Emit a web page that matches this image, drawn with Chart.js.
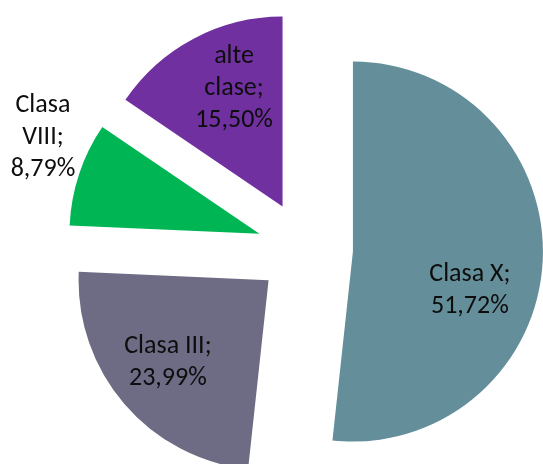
<!DOCTYPE html>
<html lang="ro">
<head>
  <meta charset="UTF-8">
  <title>Distributie pe clase</title>
  <script src="https://cdn.jsdelivr.net/npm/chart.js"></script>
  <style>
    html, body { margin: 0; padding: 0; background: #fff; }
    #pie { display: block; }
  </style>
</head>
<body>
  <canvas id="pie" width="543" height="464"></canvas>
  <script>
    // data (percent)
    const categories = ['Clasa X', 'Clasa III', 'Clasa VIII', 'alte clase'];
    const shares = [51.72, 23.99, 8.79, 15.50];
    const colors = ['#648f9a', '#6e6c85', '#00b553', '#7030a0'];

    // label placement: wrap width, radial fraction, angular nudge (deg)
    const wrapWidth = [140, 140, 75, 75];
    const labelRadius = [0.648, 0.683, 1.248, 0.67];
    const labelNudge = [15.1, 1.5, 5.7, 5.5];

    const RADIUS = 190;
    const EXPLODE = 48;               // pixels each slice is pulled out
    const FONT = '26px Carlito, Lato, sans-serif';
    const LINE_H = 32;

    const fmt = v => v.toFixed(2).replace('.', ',') + '%';

    function wrap(ctx, text, maxW) {
      const words = text.split(' ');
      const lines = [];
      let cur = '';
      words.forEach(w => {
        const test = cur ? cur + ' ' + w : w;
        if (cur && ctx.measureText(test).width > maxW) {
          lines.push(cur);
          cur = w;
        } else {
          cur = test;
        }
      });
      if (cur) lines.push(cur);
      return lines;
    }

    // pull every slice out along its mid angle, same radius for all
    const explode = {
      id: 'explode',
      beforeDatasetDraw(chart, args) {
        const area = chart.chartArea;
        const cx = (area.left + area.right) / 2;
        const cy = (area.top + area.bottom) / 2;
        args.meta.data.forEach(arc => {
          const mid = (arc.startAngle + arc.endAngle) / 2;
          arc.x = cx + Math.cos(mid) * EXPLODE;
          arc.y = cy + Math.sin(mid) * EXPLODE;
        });
      }
    };

    const sliceLabels = {
      id: 'sliceLabels',
      afterDatasetsDraw(chart) {
        const ctx = chart.ctx;
        const meta = chart.getDatasetMeta(0);
        ctx.save();
        ctx.font = FONT;
        ctx.fillStyle = '#0d0d0d';
        ctx.textAlign = 'center';
        ctx.textBaseline = 'middle';
        meta.data.forEach((arc, i) => {
          const mid = (arc.startAngle + arc.endAngle) / 2;
          const a = mid + labelNudge[i] * Math.PI / 180;
          const x = arc.x + Math.cos(a) * arc.outerRadius * labelRadius[i];
          const y = arc.y + Math.sin(a) * arc.outerRadius * labelRadius[i];
          const lines = wrap(ctx, categories[i] + ';', wrapWidth[i]);
          lines.push(fmt(shares[i]));
          const top = y - (lines.length - 1) * LINE_H / 2;
          lines.forEach((t, k) => ctx.fillText(t, x, top + k * LINE_H));
        });
        ctx.restore();
      }
    };

    new Chart(document.getElementById('pie'), {
      type: 'pie',
      data: {
        labels: categories,
        datasets: [{
          data: shares,
          backgroundColor: colors,
          borderWidth: 0,
          offset: 0,
          hoverOffset: 0,
          radius: RADIUS,
          clip: false
        }]
      },
      options: {
        responsive: false,
        animation: false,
        layout: { padding: { left: 67, right: 0, top: 34, bottom: 0 } },
        plugins: {
          legend: { display: false },
          tooltip: { enabled: false }
        },
        events: []
      },
      plugins: [explode, sliceLabels]
    });
  </script>
</body>
</html>
